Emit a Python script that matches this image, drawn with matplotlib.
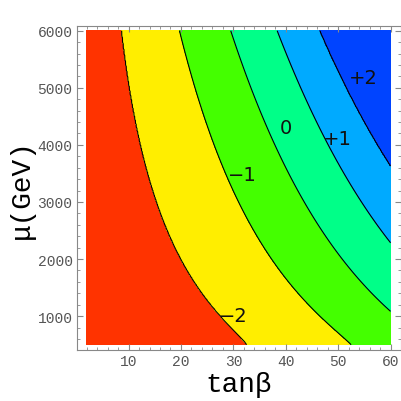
import numpy as np
import matplotlib
matplotlib.use("Agg")
import matplotlib.pyplot as plt
from matplotlib.ticker import MultipleLocator

# ---- data ----
mu_rows = [500, 1000, 2000, 3000, 4000, 5000, 6000]          # GeV
# tan(beta) position of each contour at the rows above
line_m2 = [32.6, 27.6, 19.9, 15.4, 12.4, 10.1, 8.7]
line_m1 = [52.5, 46.4, 37.5, 30.9, 26.3, 22.6, 19.8]
line_0  = [68.0, 61.0, 50.9, 43.3, 38.1, 33.3, 29.5]
line_p1 = [82.0, 74.0, 62.5, 54.4, 48.3, 42.7, 38.4]
line_p2 = [96.0, 87.0, 74.0, 64.5, 57.6, 51.5, 46.4]
levels = [-2, -1, 0, 1, 2]
level_labels = ["\u22122", "\u22121", "0", "+1", "+2"]
label_pos = [(29.9, 1003), (31.8, 3490), (40.0, 4304), (49.9, 4120), (54.8, 5180)]
colors = ["#FF3300", "#FFEE00", "#44FF00", "#00FF88", "#00AAFF", "#0044FF"]
x_ticks = [10, 20, 30, 40, 50, 60]
y_ticks = [1000, 2000, 3000, 4000, 5000, 6000]

# ---- build field from the read contour positions ----
lines = [line_m2, line_m1, line_0, line_p1, line_p2]
ly = np.log(np.array(mu_rows, float))
coefs = [np.polyfit(ly, np.array(l, float), 3) for l in lines]

xg = np.linspace(2, 60, 400)
yg = np.linspace(500, 6000, 400)
Z = np.zeros((len(yg), len(xg)))
for j, yv in enumerate(yg):
    pos = [np.polyval(c, np.log(yv)) for c in coefs]
    xs = [-200.0] + pos + [400.0]
    zs = [-3.0] + levels + [3.0]
    Z[j] = np.interp(xg, xs, zs)
X, Y = np.meshgrid(xg, yg)

fig = plt.figure(figsize=(4.02, 4.02), dpi=100)
ax = fig.add_axes([0.1908, 0.1269, 0.9963 - 0.1908, 0.932 - 0.1269])
ax.contourf(X, Y, Z, levels=[-3] + levels + [3], colors=colors)
ax.contour(X, Y, Z, levels=levels, colors="black", linewidths=0.8,
           linestyles="solid")
for (tx, ty), s in zip(label_pos, level_labels):
    ax.text(tx, ty, s, fontsize=14, ha="center", va="center", color="#111111")

ax.set_xlim(0.1, 61.9)
ax.set_ylim(407, 6077)
ax.set_xticks(x_ticks)
ax.set_yticks(y_ticks)
ax.xaxis.set_minor_locator(MultipleLocator(2))
ax.yaxis.set_minor_locator(MultipleLocator(200))
gray = "#555555"
for sp in ax.spines.values():
    sp.set_color("#888888")
    sp.set_linewidth(0.8)
ax.tick_params(which="both", direction="in", top=True, right=True, color="#888888")
ax.tick_params(which="major", length=4, labelsize=10.5, labelcolor=gray, pad=3)
ax.tick_params(which="minor", length=2)
for lab in ax.get_xticklabels() + ax.get_yticklabels():
    lab.set_family("Liberation Mono")
ax.set_xlabel("tan\u03b2", fontsize=20, family="Liberation Mono", labelpad=2)
ax.set_ylabel("\u03bc(GeV)", fontsize=20, family="Liberation Mono", labelpad=2)
fig.savefig("out.png", dpi=100)
